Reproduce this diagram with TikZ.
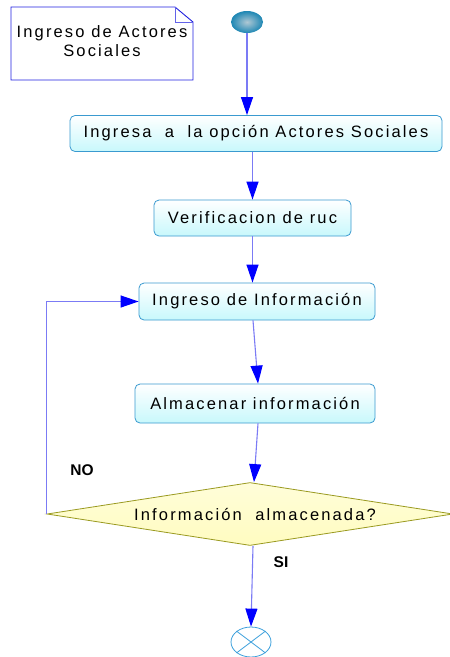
\documentclass[tikz,border=0pt]{standalone}
\usepackage{fontspec}
\setmainfont{Liberation Sans}
\newfontfamily\spacedfont[LetterSpace=13]{Liberation Sans}
\usetikzlibrary{arrows.meta,calc,shapes.geometric}
\definecolor{lineblue}{HTML}{7B7BF5}
\definecolor{tipblue}{HTML}{0000FF}
\definecolor{boxedge}{HTML}{3A9AD0}
\definecolor{boxfill}{HTML}{C8F8FC}
\definecolor{diaedge}{HTML}{9A9A20}
\definecolor{diafill}{HTML}{FFFCC0}
\definecolor{notebl}{HTML}{2020E0}
\definecolor{startin}{RGB}{175,200,212}
\definecolor{startout}{RGB}{30,135,180}
\definecolor{endcol}{RGB}{60,160,220}
\tikzset{
  act/.style={draw=boxedge, rounded corners=5pt, line width=0.8pt,
    top color=white, bottom color=boxfill, shading angle=0,
    minimum height=36pt, font=\spacedfont\fontsize{16.5}{18}\selectfont, inner sep=0pt},
  flow/.style={draw=lineblue, line width=1.1pt,
    -{Triangle[length=18pt,width=12pt,color=tipblue]}},
  lbl/.style={font=\bfseries\fontsize{15.5}{17}\selectfont}
}
\begin{document}
\begin{tikzpicture}[x=1pt,y=1pt]
\useasboundingbox (0,0) rectangle (450,-657);
\fill[white] (0,0) rectangle (450,-657);
% note
\draw[notebl, line width=0.9pt] (11,-7) -- (175,-7) -- (193,-22) -- (193,-80) -- (11,-80) -- cycle;
\draw[notebl!70, line width=0.7pt] (175,-7) -- (175,-22) -- (193,-22);
\node[font=\spacedfont\fontsize{16.5}{19.5}\selectfont, align=center] (note) at (102,-41) {Ingreso de Actores\\Sociales};
% start
\node[ellipse, minimum width=32pt, minimum height=22pt, inner sep=0pt, inner color=startin, outer color=startout] (start) at (247,-22) {};
% activities
\node[act, minimum width=372pt] (b1) at (256,-133.5) {Ingresa\ \ a\ \ la opción Actores Sociales};
\node[act, minimum width=197pt] (b2) at (252.5,-218) {Verificacion de ruc};
\node[act, minimum width=236pt, minimum height=37pt] (b3) at (257,-301.5) {Ingreso de Información};
\node[act, minimum width=240pt, minimum height=39pt] (b4) at (255,-403.5) {Almacenar información};
% decision
\node[diamond, draw=diaedge, line width=0.8pt, top color=diafill!60!white, bottom color=diafill, shading angle=0,
  minimum width=406pt, minimum height=63pt, aspect=6.4, inner sep=0pt] (dec) at (250,-514) {};
\node[font=\spacedfont\fontsize{16.5}{18}\selectfont] (dectext) at (255,-514) {Información\ \ almacenada?};
% end
\node[ellipse, draw=endcol, line width=0.8pt, minimum width=40pt, minimum height=30pt, inner sep=0pt] (fin) at (251,-642) {};
\draw[endcol, line width=0.8pt] (fin.north west) -- (fin.south east) (fin.north east) -- (fin.south west);
% flows
\draw[flow] (start.south) -- (b1.north -| start.south);
\draw[flow] (b1.south -| b2.north) -- (b2.north);
\draw[flow] (b2.south) -- (b3.north -| b2.south);
\draw[flow] ($(b3.south)+(-4,0)$) -- ($(b4.north)+(3,0)$);
\draw[flow] ($(b4.south)+(3,0)$) -- ($(dec.north)+(4,0)$);
\draw[flow] ($(dec.south)+(3,0)$) -- (fin.north);
\coordinate (cornerB) at (dec.west |- b3.west);
\draw[flow] (dec.west) -- (cornerB) -- (b3.west);
% labels
\node[lbl] (no) at (82,-470) {NO};
\node[lbl] (si) at (281,-562) {SI};
\end{tikzpicture}
\end{document}
